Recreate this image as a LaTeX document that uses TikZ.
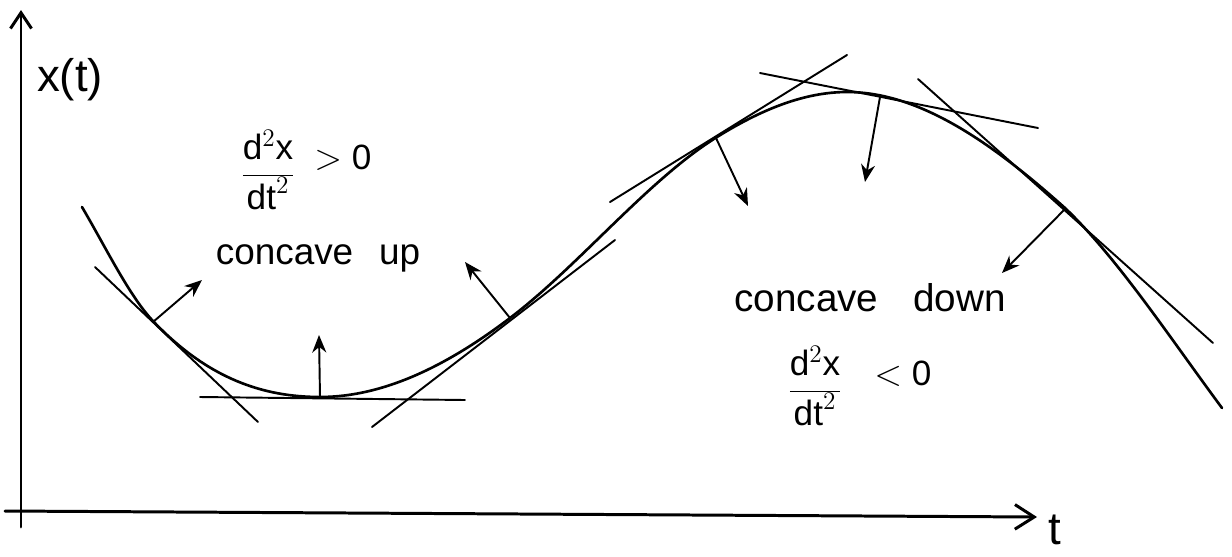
\documentclass[tikz,border=0pt]{standalone}
\usepackage{fontspec}
\setmainfont{Liberation Sans}
\usetikzlibrary{arrows.meta}
\begin{document}
\begin{tikzpicture}[x=0.02cm,y=-0.02cm,
  axis/.style={line width=1.7pt, line cap=round},
  curvestyle/.style={line width=1.5pt, line cap=round, line join=round},
  tang/.style={line width=1.1pt, line cap=round},
  normalarrow/.style={line width=1.1pt, line cap=round, -{Stealth[length=10pt,width=8pt]}},
  lbl/.style={inner sep=0pt, font=\fontsize{20}{24}\selectfont}]
\useasboundingbox (0,0) rectangle (1232,556);
% axes
\coordinate (ybot) at (21,527);
\coordinate (ytop) at (21,10);
\coordinate (xleft) at (5,511);
\coordinate (xright) at (1037,517);
\draw[axis, -{Straight Barb[length=9pt,width=12pt,line width=1.7pt]}] (ybot) -- (ytop);
\draw[axis, -{Straight Barb[length=11pt,width=14pt,line width=1.7pt]}] (xleft) -- (xright);
\node[lbl, font=\fontsize{26}{30}\selectfont] (xlab) at (70,80) {x(t)};
\node[lbl, font=\fontsize{26}{30}\selectfont] (tlab) at (1055,530) {t};
% curve
\coordinate (A) at (82,207);
\coordinate (B) at (153,321);
\coordinate (C) at (320,397);
\coordinate (D) at (510,318);
\coordinate (E) at (717,137);
\coordinate (M) at (847,92);
\coordinate (G) at (1065,208);
\coordinate (H) at (1222,408);
\draw[curvestyle] (A)
  .. controls (105.7,247.2) and (129.3,296.1) .. (B)
  .. controls (208.7,379.5) and (264.3,397) .. (C)
  .. controls (383.3,397) and (446.7,366.1) .. (D)
  .. controls (579,265.6) and (648,179.8) .. (E)
  .. controls (760.3,110.1) and (803.7,92) .. (M)
  .. controls (919.7,92) and (992.3,143) .. (G)
  .. controls (1117.3,257.7) and (1169.7,337.4) .. (H);
% tangent lines
\coordinate (t1a) at (95,267);   \coordinate (t1b) at (258,422);
\coordinate (t2a) at (200,397);  \coordinate (t2b) at (465,400);
\coordinate (t3a) at (372,427);  \coordinate (t3b) at (615,240);
\coordinate (t4a) at (610,202);  \coordinate (t4b) at (847,55);
\coordinate (t5a) at (760,73);   \coordinate (t5b) at (1038,128);
\coordinate (t6a) at (918,79);   \coordinate (t6b) at (1213,343);
\draw[tang] (t1a) -- (t1b);
\draw[tang] (t2a) -- (t2b);
\draw[tang] (t3a) -- (t3b);
\draw[tang] (t4a) -- (t4b);
\draw[tang] (t5a) -- (t5b);
\draw[tang] (t6a) -- (t6b);
% normal arrows
\coordinate (p1) at (153,322); \coordinate (q1) at (202,280);
\coordinate (p2) at (320,397); \coordinate (q2) at (319,335);
\coordinate (p3) at (510,318); \coordinate (q3) at (465,262);
\coordinate (p4) at (716,138); \coordinate (q4) at (748,206);
\coordinate (p5) at (880,97);  \coordinate (q5) at (865,182);
\coordinate (p6) at (1065,209); \coordinate (q6) at (1002,273);
\draw[normalarrow] (p1) -- (q1);
\draw[normalarrow] (p2) -- (q2);
\draw[normalarrow] (p3) -- (q3);
\draw[normalarrow] (p4) -- (q4);
\draw[normalarrow] (p5) -- (q5);
\draw[normalarrow] (p6) -- (q6);
% labels
\node[lbl] (fracup) at (268,170) {$\displaystyle\frac{\mathrm{d}^{2}\mathrm{x}}{\mathrm{dt}^{2}}$};
\node[lbl, anchor=west] (gt) at (314,158) {$>$ 0};
\node[lbl, font=\fontsize{21}{25}\selectfont] (cup) at (318,258) {concave\hspace{0.7em}up};
\node[lbl, font=\fontsize{22}{26}\selectfont] (cdown) at (870,298) {concave\hspace{0.9em}down};
\node[lbl] (fracdown) at (815,386) {$\displaystyle\frac{\mathrm{d}^{2}\mathrm{x}}{\mathrm{dt}^{2}}$};
\node[lbl, anchor=west] (lt) at (874,374) {$<$ 0};
\end{tikzpicture}
\end{document}
